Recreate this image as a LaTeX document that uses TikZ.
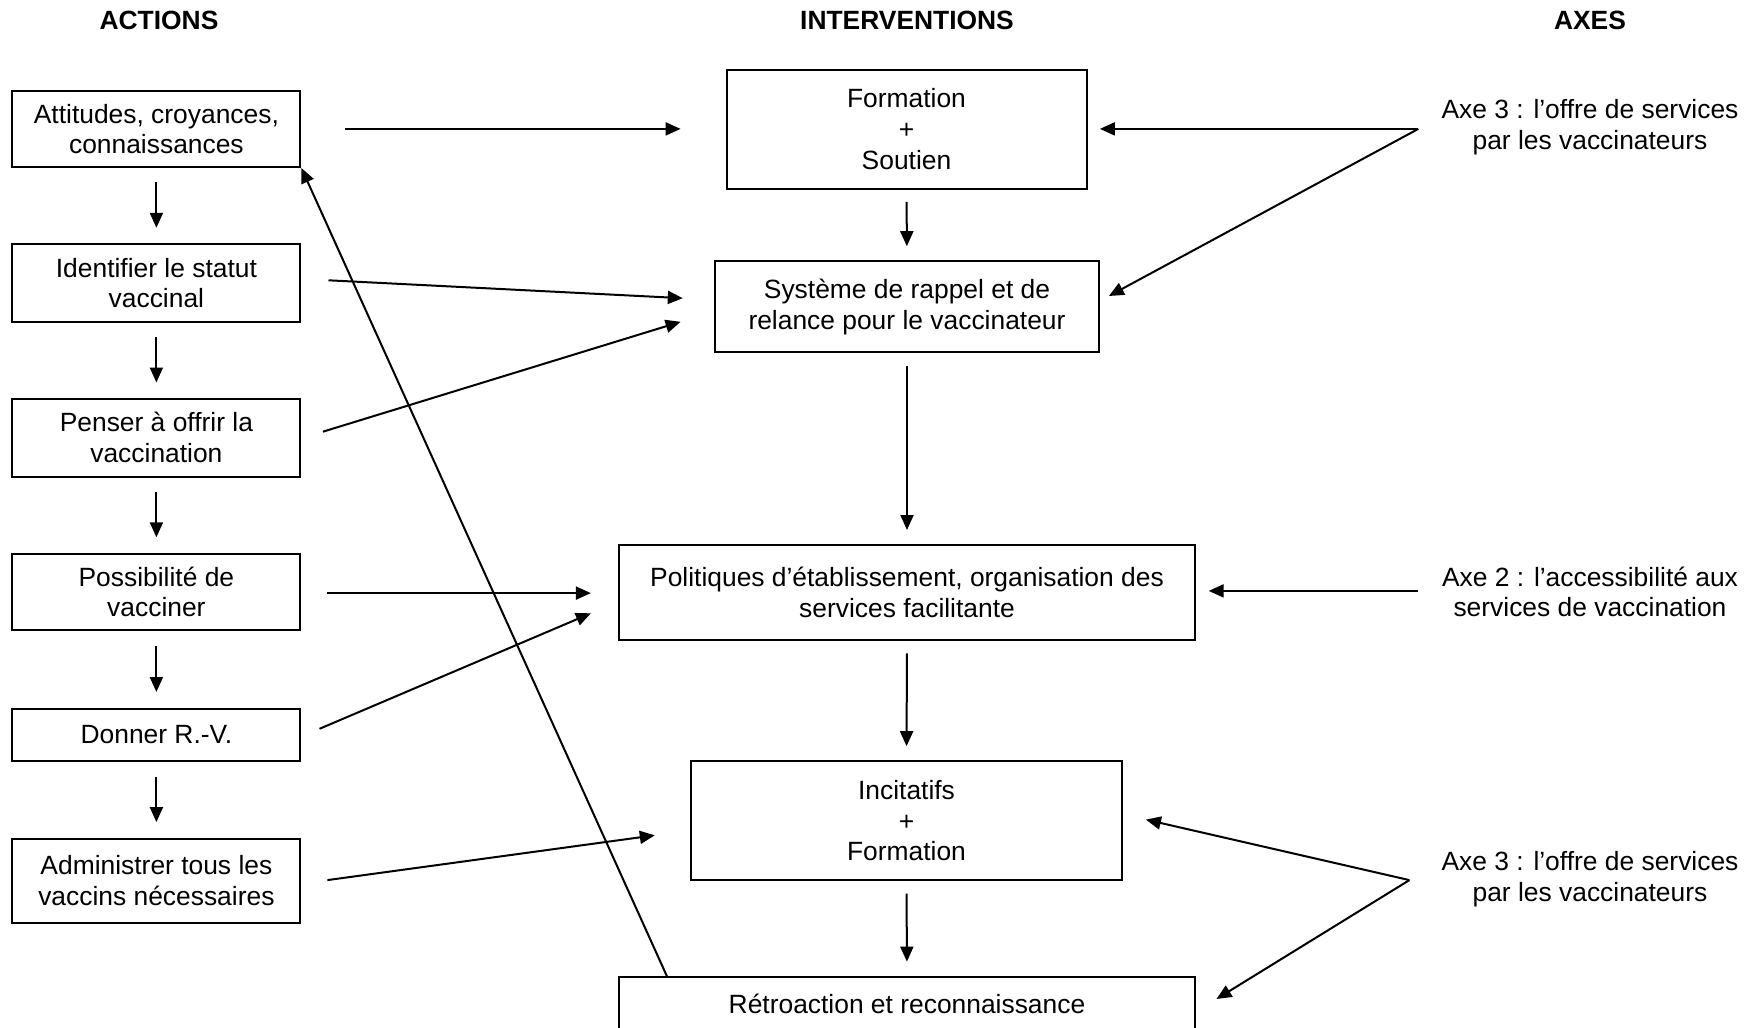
\documentclass[tikz,border=0pt]{standalone}
\usepackage{fontspec}
\setmainfont{Liberation Sans}
\usetikzlibrary{arrows.meta}
\begin{document}
\begin{tikzpicture}[x=0.5pt,y=-0.5pt,
  txt/.style={font=\fontsize{13.2}{15.4}\selectfont},
  box/.style={txt,draw,line width=1pt,align=center,inner sep=0pt},
  lbl/.style={txt,align=center,inner sep=0pt},
  hdr/.style={inner sep=0pt,font=\fontsize{13.2}{15.4}\selectfont\bfseries},
  arr/.style={line width=1pt,-{Triangle[length=7.5pt,width=6.5pt]}},
  ]
\useasboundingbox (0,0) rectangle (1758,1028);
\clip (0,0) rectangle (1758,1028);

% headers
\node[hdr] (hA) at (159,20) {ACTIONS};
\node[hdr] (hI) at (907,20) {INTERVENTIONS};
\node[hdr] (hX) at (1590,20) {AXES};

% actions
\node[box,minimum width=144pt,minimum height=38pt] (a1) at (156.4,129) {Attitudes, croyances,\\connaissances};
\node[box,minimum width=144pt,minimum height=38.7pt] (a2) at (156.4,283.1) {Identifier le statut\\vaccinal};
\node[box,minimum width=144pt,minimum height=38.7pt] (a3) at (156.4,437.8) {Penser à offrir la\\vaccination};
\node[box,minimum width=144pt,minimum height=38.1pt] (a4) at (156.4,592) {Possibilité de\\vacciner};
\node[box,minimum width=144pt,minimum height=26.4pt] (a5) at (156.4,735) {Donner R.-V.};
\node[box,minimum width=144pt,minimum height=42pt] (a6) at (156.4,880.7) {Administrer tous les\\vaccins nécessaires};

% interventions
\node[box,minimum width=180pt,minimum height=59.5pt] (m1) at (906.5,129) {Formation\\+\\Soutien};
\node[box,minimum width=191.75pt,minimum height=45.5pt] (m2) at (907,306.7) {Système de rappel et de\\relance pour le vaccinateur};
\node[box,minimum width=288pt,minimum height=47.5pt] (m3) at (907,592.5) {Politiques d’établissement, organisation des\\services facilitante};
\node[box,minimum width=215.8pt,minimum height=59.5pt] (m4) at (906.5,820.7) {Incitatifs\\+\\Formation};
\node[box,minimum width=288pt,minimum height=26.9pt] (m5) at (907,1003.5) {Rétroaction et reconnaissance};

% axes
\node[lbl] (x1) at (1590,127) {Axe 3 : l’offre de services\\par les vaccinateurs};
\node[lbl] (x2) at (1590,592) {Axe 2 : l’accessibilité aux\\services de vaccination};
\node[lbl] (x3) at (1590,879) {Axe 3 : l’offre de services\\par les vaccinateurs};

% vertical arrows
\foreach \u/\v in {a1/a2,a2/a3,a3/a4,a4/a5,a5/a6}
  \draw[arr,shorten <=7.2pt,shorten >=7.8pt] (\u) -- (\v);
\foreach \u/\v in {m1/m2,m2/m3,m3/m4,m4/m5}
  \draw[arr,shorten <=6.2pt,shorten >=7pt] (\u.south) -- (\v.north);

% coordinates of free ends
\coordinate (s1) at (345.3,128.9);  \coordinate (e1) at (680.6,128.9);
\coordinate (s2) at (328.5,280.3);  \coordinate (e2) at (682.8,298.2);
\coordinate (s3) at (322.9,431.7);  \coordinate (e3) at (680.6,321.8);
\coordinate (s4) at (327.4,593.1);  \coordinate (e4) at (590.9,593.1);
\coordinate (s5) at (319.5,728.8);  \coordinate (e5) at (590.9,613.3);
\coordinate (s6) at (327.4,880.1);  \coordinate (e6) at (654.8,835.3);
\coordinate (r0) at (667.1,976.6);

\coordinate (p1) at (1418.3,128.9);
\coordinate (p2) at (1418.3,590.9);
\coordinate (p3) at (1409.4,880.1);
\coordinate (f1) at (1099.9,128.9);
\coordinate (f2) at (1108.9,296);
\coordinate (f3) at (1208.7,590.9);
\coordinate (f4) at (1145.9,819.6);
\coordinate (f5) at (1216.5,999);

% action -> intervention arrows
\draw[arr] (s1) -- (e1);
\draw[arr] (s2) -- (e2);
\draw[arr] (s3) -- (e3);
\draw[arr] (s4) -- (e4);
\draw[arr] (s5) -- (e5);
\draw[arr] (s6) -- (e6);

% feedback arrow
\draw[arr] (r0) -- (a1.south east);

% axes arrows
\draw[arr] (p1) -- (f1);
\draw[arr] (p1) -- (f2);
\draw[arr] (p2) -- (f3);
\draw[arr] (p3) -- (f4);
\draw[arr] (p3) -- (f5);
\end{tikzpicture}
\end{document}
